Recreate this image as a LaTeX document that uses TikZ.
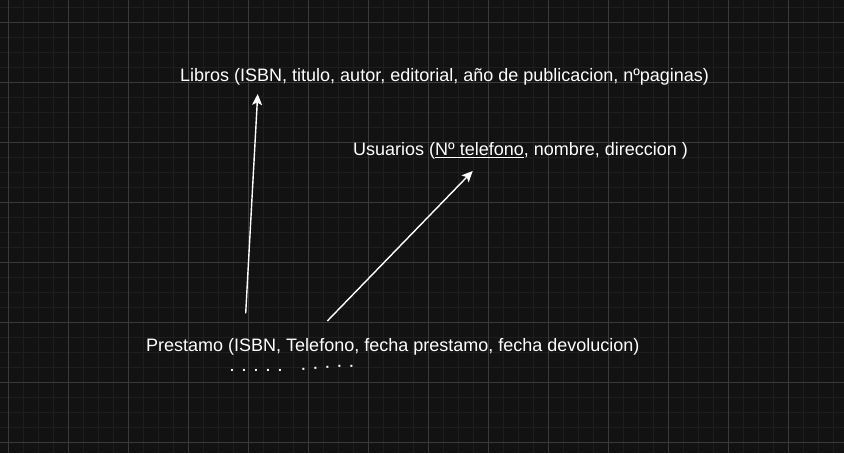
\documentclass[tikz,border=0pt]{standalone}
\usepackage{fontspec}
\setmainfont{Liberation Sans}
\usetikzlibrary{arrows.meta, positioning}
\definecolor{fondo}{HTML}{121212}
\definecolor{rejmenor}{HTML}{1E1E1E}
\definecolor{rejmayor}{HTML}{3A3A3A}
\newcommand{\dotgap}{\hspace{8.1pt}}
\tikzset{
  % texto de una relacion
  rel/.style={anchor=base west, inner sep=0pt, text=white,
    font=\fontsize{18}{22}\selectfont},
  % puntos bajo los campos
  puntos/.style={anchor=base west, inner sep=0pt, text=white,
    font=\fontsize{14}{14}\selectfont\bfseries},
  % flecha de clave ajena
  fk/.style={draw=white, line width=1.4pt, -{Stealth[length=11pt, width=10pt, inset=2.5pt]}},
  % rejilla de fondo
  menor/.style={rejmenor, line width=1pt},
  mayor/.style={rejmayor, line width=1pt},
}
\begin{document}
\begin{tikzpicture}[x=1pt, y=-1pt]
  \fill[fondo] (0,0) rectangle (844,453);
  \useasboundingbox (0,0) rectangle (844,453);
  \foreach \x in {-7,8,...,844} \draw[menor] (\x,0) -- (\x,453);
  \foreach \y in {7,22,...,453} \draw[menor] (0,\y) -- (844,\y);
  \foreach \x in {8,68,...,844} \draw[mayor] (\x,0) -- (\x,453);
  \foreach \y in {22,82,...,453} \draw[mayor] (0,\y) -- (844,\y);
  \node[rel] (libros) at (180,81) {Libros (ISBN, titulo, autor, editorial, año de publicacion, nºpaginas)};
  \node[rel] (usuarios) at (353,155.7) {Usuarios (\underline{Nº telefono}, nombre, direccion )};
  \node[rel] (prestamo) at (146,351) {Prestamo (ISBN, Telefono, fecha prestamo, fecha devolucion)};
  \node[puntos] (puntosa) at (230,371) {.\dotgap.\dotgap.\dotgap.\dotgap.};
  \node[puntos, rotate=4] (puntosb) at (301.5,370.5) {.\dotgap.\dotgap.\dotgap.\dotgap.};
  \coordinate (isbn) at (245.7,313.3);
  \coordinate (tel) at (327.3,321);
  \coordinate (entlibros) at (257.7,94);
  \coordinate (entusuarios) at (472.7,171);
  \draw[fk] (isbn) -- (entlibros);
  \draw[fk] (tel) -- (entusuarios);
\end{tikzpicture}
\end{document}
